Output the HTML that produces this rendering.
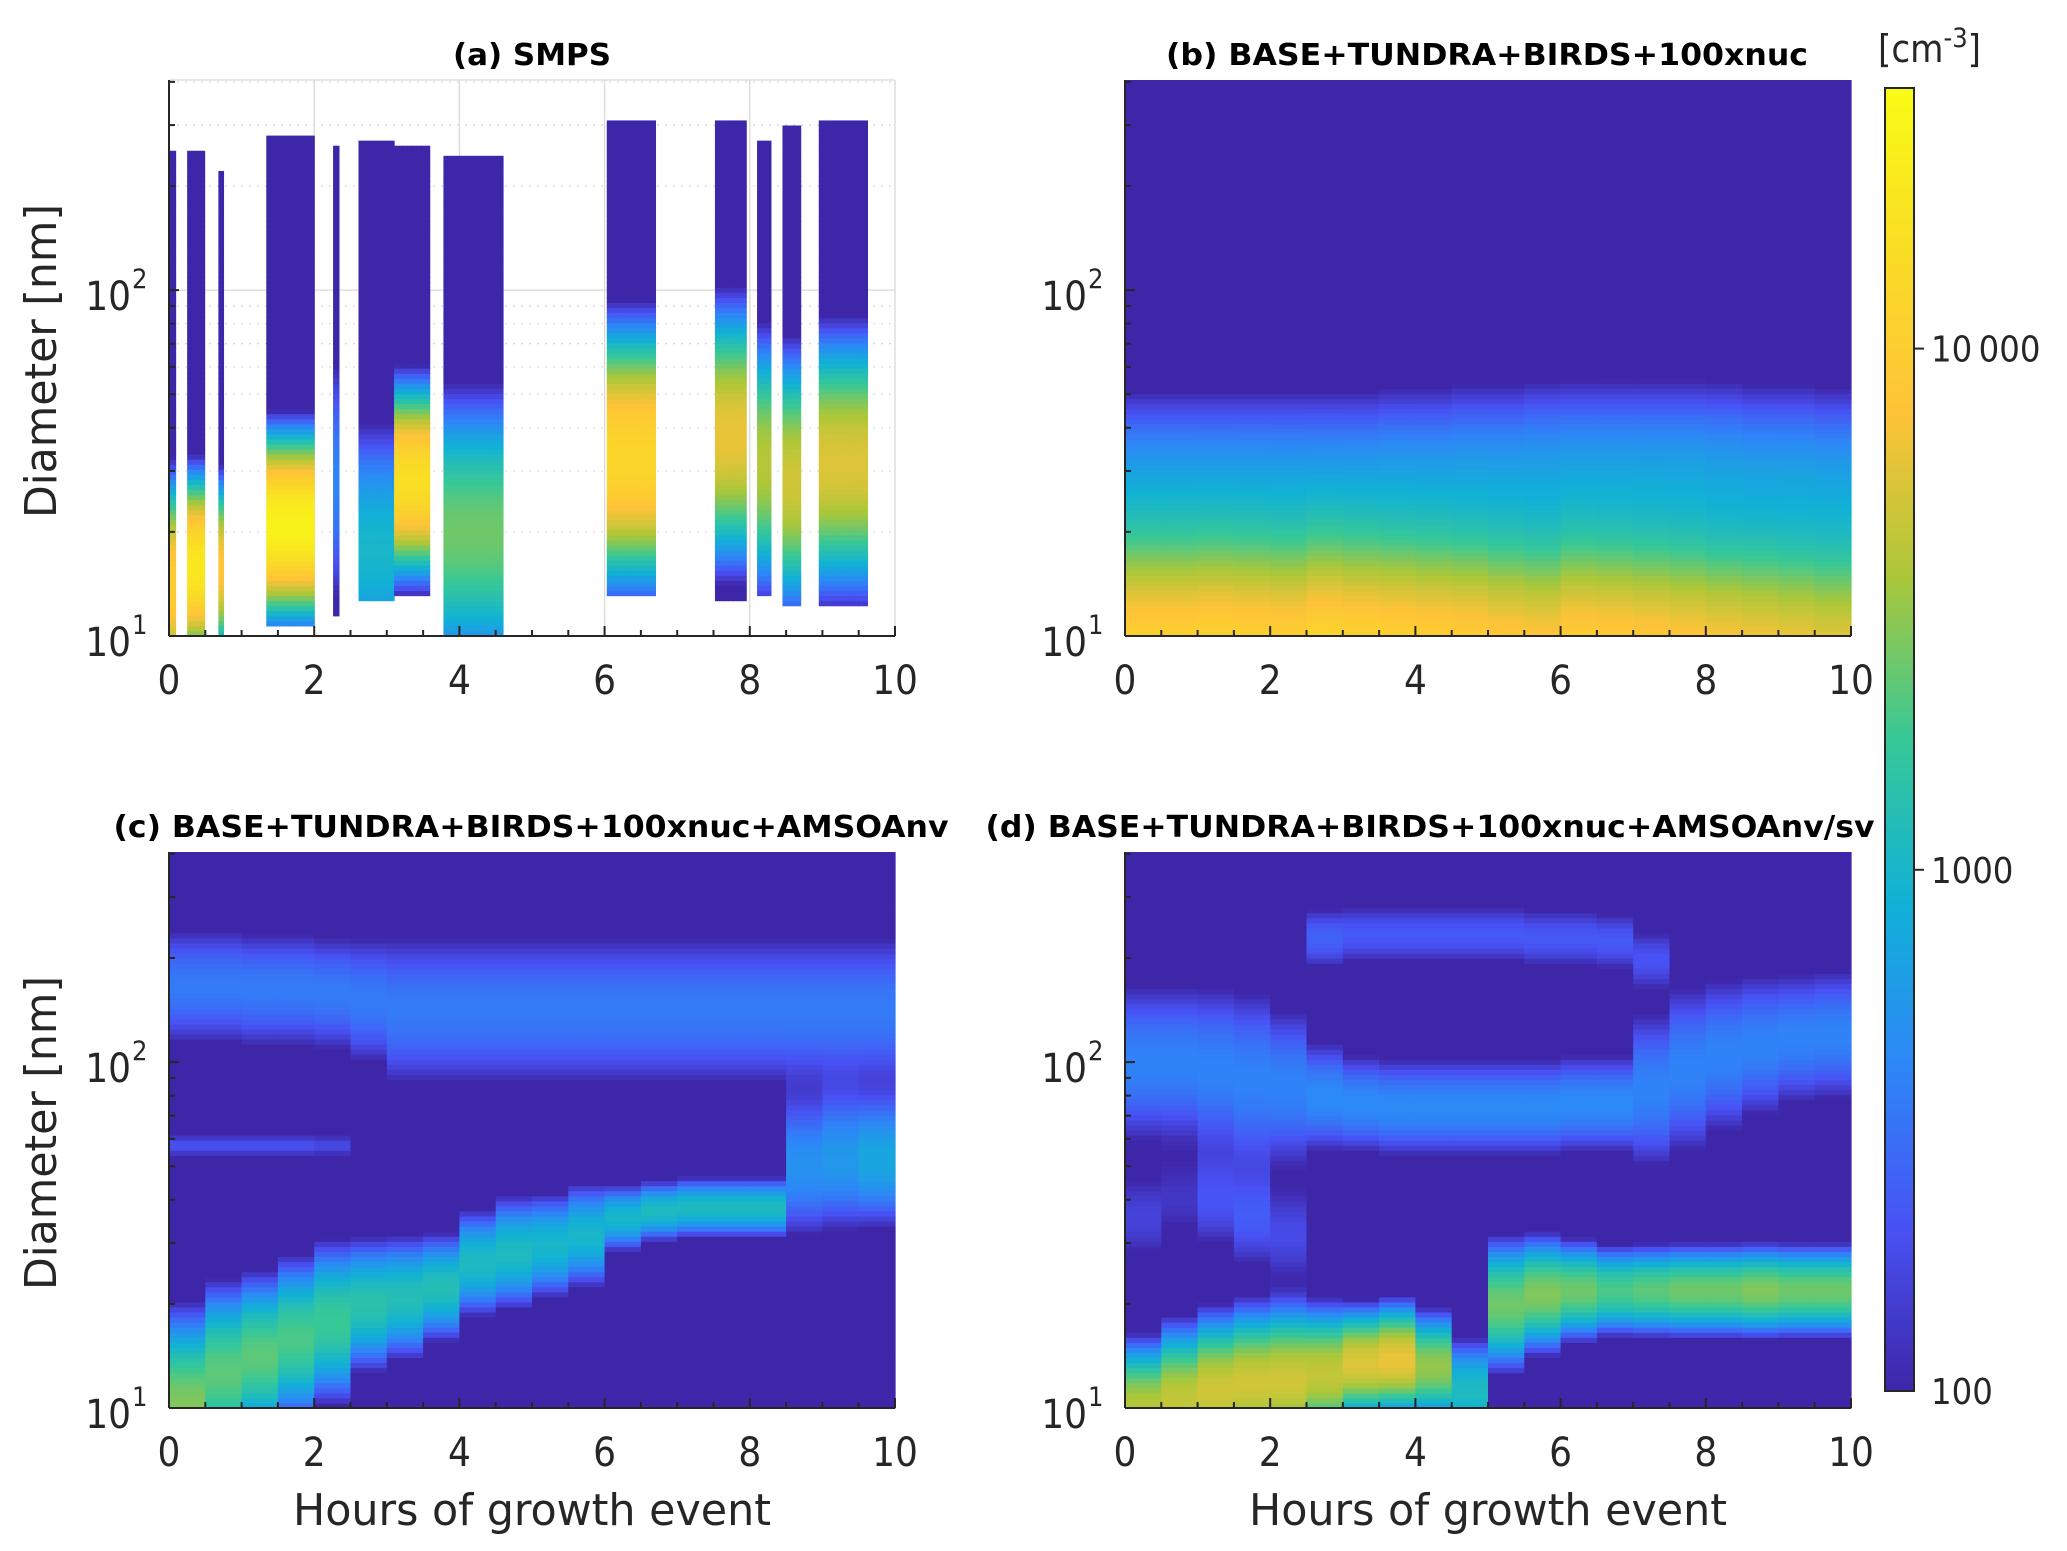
<!DOCTYPE html>
<html><head><meta charset="utf-8"><style>
html,body{margin:0;padding:0;background:#fff;}
svg{display:block;font-family:"DejaVu Sans Condensed","DejaVu Sans","Liberation Sans",sans-serif;font-stretch:condensed;}
</style></head><body>
<svg id="fig" width="2067" height="1551" viewBox="0 0 2067 1551" xmlns="http://www.w3.org/2000/svg">
<defs>
<linearGradient id="parula" x1="0" y1="1" x2="0" y2="0">
<stop offset="0" stop-color="#3e26a8"/><stop offset="0.125" stop-color="#4852f4"/><stop offset="0.25" stop-color="#2d87f7"/><stop offset="0.375" stop-color="#11b1d6"/><stop offset="0.5" stop-color="#37c897"/><stop offset="0.625" stop-color="#abc739"/><stop offset="0.75" stop-color="#fec338"/><stop offset="0.875" stop-color="#f9dd25"/><stop offset="1" stop-color="#f9fb15"/>
</linearGradient>
</defs>
<g id="layer"></g>
</svg>
<script>
// ---------- data (log10 of concentration in cm^-3, diameters in log10 nm) ----------
const timeCols = [0,0.5,1,1.5,2,2.5,3,3.5,4,4.5,5,5.5,6,6.5,7,7.5,8,8.5,9,9.5];
const xTicks = [0,2,4,6,8,10];
const yTickLabelsExp = [1,2];
const cbTicks = [100,1000,10000];
const cbTickLabels = ["100","1000","10\u2009000"];

// panel b
const bM1Mu   = [0.85,0.85,0.85,0.85,0.85,0.85,0.85,0.85,0.85,0.85,0.85,0.85,0.85,0.85,0.85,0.85,0.85,0.85,0.85,0.85];
const bM1Peak = [4.15,4.15,4.17,4.15,4.13,4.2,4.17,4.15,4.12,4.1,4.05,4.02,4.1,4.08,4.05,4.02,3.98,3.95,3.92,3.88];
const bM2Mu   = [1.4,1.4,1.4,1.4,1.4,1.4,1.4,1.41,1.41,1.42,1.42,1.43,1.43,1.43,1.43,1.43,1.43,1.42,1.42,1.41];
const bM2Peak = [2.8,2.8,2.8,2.8,2.8,2.8,2.8,2.8,2.8,2.8,2.8,2.8,2.82,2.82,2.82,2.82,2.8,2.8,2.8,2.8];

// panel c
const cNucMu   = [1.0,1.1,1.15,1.2,1.25,1.3,1.32,1.35,1.42,1.45,1.47,1.5,1.55,1.57,1.58,1.58,1.58,1.7,1.72,1.72];
const cNucPeak = [3.45,3.35,3.35,3.3,3.25,3.15,3.1,3.1,3.05,3.05,3.0,3.0,3.0,3.05,3.05,3.05,3.05,2.7,2.75,2.85];
const cNucSig  = [0.12,0.11,0.1,0.1,0.1,0.085,0.08,0.07,0.07,0.075,0.07,0.07,0.045,0.04,0.04,0.04,0.04,0.11,0.11,0.1];
const cAccMu   = [2.22,2.22,2.21,2.21,2.2,2.18,2.15,2.15,2.15,2.15,2.15,2.15,2.15,2.15,2.15,2.15,2.15,2.15,2.15,2.15];
const cAccPeak = [2.55,2.55,2.55,2.55,2.55,2.55,2.55,2.55,2.55,2.55,2.55,2.55,2.55,2.55,2.55,2.55,2.55,2.55,2.55,2.55];
const cAccSig  = [0.1,0.1,0.1,0.1,0.1,0.11,0.13,0.13,0.13,0.13,0.13,0.13,0.13,0.13,0.13,0.13,0.13,0.13,0.13,0.13];
const cSideMu   = [1.76,1.76,1.76,1.76,1.76,1.76,1.76,1.76,1.76,1.76,1.76,1.76,1.76,1.76,1.76,1.76,1.76,1.76,1.76,1.76];
const cSidePeak = [2.3,2.3,2.3,2.3,2.25,0,0,0,0,0,0,0,0,0,0,0,0,0,0,0];

// panel d
const dNucMu   = [1.0,1.02,1.05,1.07,1.08,1.1,1.13,1.14,1.12,1.05,1.3,1.33,1.34,1.34,1.34,1.34,1.34,1.34,1.34,1.34];
const dNucPeak = [3.6,3.65,3.7,3.7,3.7,3.65,3.75,3.8,3.5,3.05,3.4,3.45,3.4,3.3,3.35,3.4,3.4,3.45,3.4,3.4];
const dNucSig  = [0.08,0.09,0.09,0.09,0.09,0.08,0.065,0.065,0.065,0.07,0.08,0.07,0.06,0.055,0.055,0.055,0.055,0.055,0.055,0.055];
const dAccMu   = [2.0,2.0,1.98,1.95,1.93,1.9,1.88,1.87,1.87,1.87,1.87,1.87,1.88,1.88,1.92,1.98,2.02,2.05,2.07,2.08];
const dAccPeak = [2.6,2.6,2.6,2.6,2.6,2.65,2.65,2.65,2.65,2.65,2.65,2.65,2.65,2.65,2.6,2.6,2.6,2.6,2.6,2.6];
const dAccSig  = [0.13,0.13,0.14,0.15,0.13,0.09,0.08,0.08,0.08,0.08,0.08,0.08,0.08,0.08,0.13,0.14,0.13,0.12,0.11,0.11];
const dUpMu    = [2.3,2.3,2.3,2.3,2.3,2.36,2.37,2.37,2.37,2.37,2.37,2.36,2.36,2.35,2.3,2.3,2.3,2.3,2.3,2.3];
const dUpPeak  = [0,0,0,0,0,2.4,2.35,2.35,2.35,2.35,2.35,2.35,2.35,2.35,2.3,0,0,0,0,0];
const dSideMu   = [1.55,1.6,1.6,1.55,1.5,1.45,0,0,0,0,0,0,0,0,0,0,0,0,0,0];
const dSidePeak = [2.2,2.1,2.3,2.35,2.25,0,0,0,0,0,0,0,0,0,0,0,0,0,0,0];

// panel a (SMPS) segments
const segStart = [0.0,0.25,0.68,1.34,2.26,2.61,3.1,3.78,6.03,7.52,8.1,8.45,8.95];
const segEnd   = [0.09,0.49,0.75,2.0,2.34,3.1,3.59,4.6,6.7,7.95,8.29,8.7,9.62];
const segTop   = [2.4,2.4,2.35,2.45,2.42,2.44,2.42,2.39,2.5,2.5,2.44,2.48,2.5];
const segBot   = [1.0,1.0,1.0,1.03,1.06,1.1,1.12,1.0,1.12,1.1,1.12,1.08,1.09];
const segMu    = [1.15,1.2,1.2,1.32,1.45,1.25,1.45,1.3,1.52,1.58,1.5,1.45,1.5];
const segPeak  = [4.0,4.3,3.9,4.4,2.6,3.0,4.2,3.4,4.1,3.8,3.6,3.7,3.75];
const segSig   = [0.12,0.1,0.1,0.1,0.2,0.17,0.105,0.17,0.145,0.15,0.15,0.15,0.15];

// ---------- geometry ----------
const NS = "http://www.w3.org/2000/svg";
const layer = document.getElementById('layer');
const YMIN = 1, YMAX = Math.log10(405);
const panels = {
  a:{left:169, top:80, w:726, h:556},
  b:{left:1125, top:80, w:726, h:556},
  c:{left:169, top:852, w:726, h:556},
  d:{left:1125, top:852, w:726, h:556}
};
const stops = [[0,[62,38,168]],[0.125,[72,82,244]],[0.25,[45,135,247]],[0.375,[17,177,214]],[0.5,[55,200,151]],[0.625,[171,199,57]],[0.75,[254,195,56]],[0.875,[249,221,37]],[1,[249,251,21]]];
function colorOf(v){
  let t = (v-2)/2.5; t = Math.max(0,Math.min(1,t));
  for(let i=1;i<stops.length;i++){
    if(t<=stops[i][0]){
      const a=stops[i-1], b=stops[i], f=(t-a[0])/(b[0]-a[0]);
      const c=a[1].map((x,k)=>Math.round(x+(b[1][k]-x)*f));
      return `rgb(${c[0]},${c[1]},${c[2]})`;
    }
  }
  return 'rgb(249,251,21)';
}
function xPix(P,t){return P.left + t/10*P.w;}
function yPix(P,l){return P.top + (YMAX-l)/(YMAX-YMIN)*P.h;}
function mk(tag, attrs, parent){
  const e=document.createElementNS(NS,tag);
  for(const k in attrs) e.setAttribute(k,attrs[k]);
  (parent||layer).appendChild(e); return e;
}
function modeVal(logD, modes){
  let s=0;
  for(const m of modes){ if(m.p<=0) continue; const d=logD-m.mu; s+=Math.pow(10,m.p)*Math.exp(-d*d/(2*m.s*m.s)); }
  return Math.log10(s+1);
}
const NROWS = 110;
function drawModel(key, modesAt){
  const P=panels[key];
  const g=mk('g',{});
  
  
  for(let i=0;i<timeCols.length;i++){
    const t0=timeCols[i], t1=t0+0.5;
    const x0=xPix(P,t0), x1=xPix(P,t1);
    const modes=modesAt(i);
    for(let j=0;j<NROWS;j++){
      const l0=YMIN+(YMAX-YMIN)*j/NROWS, l1=YMIN+(YMAX-YMIN)*(j+1)/NROWS;
      const v=modeVal((l0+l1)/2, modes);
      const r=mk('rect',{x:x0.toFixed(2),y:yPix(P,l1).toFixed(2),width:(x1-x0+0.6).toFixed(2),height:(yPix(P,l0)-yPix(P,l1)+0.6).toFixed(2),fill:colorOf(v)},g);
      
      
    }
  }
}
function drawGridA(){
  const P=panels.a;
  const g=mk('g',{stroke:'#d9d9d9','stroke-width':1.3,fill:'none'});
  
  
  [2,4,6,8].forEach(t=>mk('line',{x1:xPix(P,t),x2:xPix(P,t),y1:P.top,y2:P.top+P.h},g));
  mk('line',{x1:P.left,x2:P.left+P.w,y1:yPix(P,2),y2:yPix(P,2)},g);
  [20,30,40,50,60,70,80,90,200,300,400].forEach(d=>mk('line',{x1:P.left,x2:P.left+P.w,y1:yPix(P,Math.log10(d)),y2:yPix(P,Math.log10(d)),'stroke-dasharray':'2 6'},g));
  mk('line',{x1:P.left,x2:P.left+P.w,y1:P.top,y2:P.top},g);
  mk('line',{x1:P.left+P.w,x2:P.left+P.w,y1:P.top,y2:P.top+P.h},g);
}
function drawSMPS(){
  const P=panels.a;
  const g=mk('g',{});
  
  
  const dt=0.06;
  for(let s=0;s<segStart.length;s++){
    const n=Math.max(1,Math.round((segEnd[s]-segStart[s])/dt));
    const w=(segEnd[s]-segStart[s])/n;
    const modes=[{mu:segMu[s],p:segPeak[s],s:segSig[s]}];
    for(let c=0;c<n;c++){
      const t0=segStart[s]+c*w;
      const x0=xPix(P,t0), x1=xPix(P,t0+w);
      for(let j=0;j<NROWS;j++){
        const l0=YMIN+(YMAX-YMIN)*j/NROWS, l1=YMIN+(YMAX-YMIN)*(j+1)/NROWS;
        if(l0<segBot[s]-0.005 || l1>segTop[s]+0.005) continue;
        const v=modeVal((l0+l1)/2, modes);
        const r=mk('rect',{x:x0.toFixed(2),y:yPix(P,l1).toFixed(2),width:(x1-x0+0.6).toFixed(2),height:(yPix(P,l0)-yPix(P,l1)+0.6).toFixed(2),fill:colorOf(v)},g);
        
        
      }
    }
  }
}
function drawAxes(key, showXLabel, showYLabel){
  const P=panels[key];
  const g=mk('g',{stroke:'#262626','stroke-width':2,fill:'none'});
  
  
  const yb=P.top+P.h;
  mk('line',{x1:P.left,x2:P.left+P.w,y1:yb,y2:yb},g);
  mk('line',{x1:P.left,x2:P.left,y1:P.top,y2:yb},g);
  for(let t=0;t<=10.001;t+=0.5){
    const x=xPix(P,t), major=Math.abs(t-Math.round(t/2)*2)<1e-6;
    mk('line',{x1:x,x2:x,y1:yb,y2:yb-(major?10:6)},g);
  }
  [20,30,40,50,60,70,80,90,100,200,300,400].forEach(d=>{
    const y=yPix(P,Math.log10(d)); mk('line',{x1:P.left,x2:P.left+(d===100?10:6),y1:y,y2:y},g);
  });
  const tg=mk('g',{fill:'#262626','font-size':40});
  
  
  xTicks.forEach(t=>{const e=mk('text',{x:xPix(P,t),y:yb+58,'text-anchor':'middle'},tg); e.textContent=String(t);
    
    });
  yTickLabelsExp.forEach(p=>{
    const y=yPix(P,p);
    const e=mk('text',{x:P.left-38,y:y+20,'text-anchor':'end'},tg); e.textContent='10';
    
    
    const s=mk('text',{x:P.left-37,y:y-2,'font-size':27},tg); s.textContent=String(p);
  });
  if(showXLabel){const e=mk('text',{x:P.left+P.w/2,y:yb+117,'text-anchor':'middle','font-size':44,fill:'#262626',textLength:478,lengthAdjust:'spacingAndGlyphs'}); e.textContent='Hours of growth event';
    
    }
  if(showYLabel){const cy=P.top+P.h/2+3; const e=mk('text',{x:0,y:0,transform:`translate(56,${cy}) rotate(-90)`,'text-anchor':'middle','font-size':44,fill:'#262626',textLength:314,lengthAdjust:'spacingAndGlyphs'}); e.textContent='Diameter [nm]';
    
    }
}
function title(key, txt, len, cx){
  const P=panels[key];
  const e=mk('text',{x:cx,y:P.top-15,'text-anchor':'middle','font-size':30,'font-weight':'bold',fill:'#000',textLength:len,lengthAdjust:'spacingAndGlyphs'});
  e.textContent=txt;
  
  
}

drawGridA();
drawSMPS();
drawModel('b', i=>[{mu:bM1Mu[i],p:bM1Peak[i],s:0.2},{mu:bM2Mu[i],p:bM2Peak[i],s:0.16}]);
drawModel('c', i=>[{mu:cNucMu[i],p:cNucPeak[i],s:cNucSig[i]},{mu:cAccMu[i],p:cAccPeak[i],s:cAccSig[i]},{mu:cSideMu[i],p:cSidePeak[i],s:0.025}]);
drawModel('d', i=>[{mu:dNucMu[i],p:dNucPeak[i],s:dNucSig[i]},{mu:dAccMu[i],p:dAccPeak[i],s:dAccSig[i]},{mu:dUpMu[i],p:dUpPeak[i],s:0.06},{mu:dSideMu[i],p:dSidePeak[i],s:0.1}]);
drawAxes('a',false,true);
drawAxes('b',false,false);
drawAxes('c',true,true);
drawAxes('d',true,false);
title('a','(a) SMPS',158,532);
title('b','(b) BASE+TUNDRA+BIRDS+100xnuc',642,1487);
title('c','(c) BASE+TUNDRA+BIRDS+100xnuc+AMSOAnv',835,531);
title('d','(d) BASE+TUNDRA+BIRDS+100xnuc+AMSOAnv/sv',889,1430);

// colorbar
const CB={left:1885, top:88, w:29, bottom:1391};
function cbY(v){return CB.bottom - (Math.log10(v)-2)/2.5*(CB.bottom-CB.top);}
const cb=mk('g',{});


mk('rect',{x:CB.left,y:CB.top,width:CB.w,height:CB.bottom-CB.top,fill:'url(#parula)',stroke:'#262626','stroke-width':2},cb);
cbTicks.forEach((v,i)=>{
  const y=cbY(v);
  if(i>0) mk('line',{x1:CB.left+CB.w,x2:CB.left+CB.w+10,y1:y,y2:y,stroke:'#262626','stroke-width':2},cb);
  const e=mk('text',{x:CB.left+46,y:y+13,'font-size':36,fill:'#262626'},cb); e.textContent=cbTickLabels[i];
  
  
});
const u=mk('text',{x:1878,y:62,'font-size':38,fill:'#262626'},cb);


u.innerHTML='[cm<tspan dy="-15" font-size="27">-3</tspan><tspan dy="15">]</tspan>';
</script>
</body></html>
